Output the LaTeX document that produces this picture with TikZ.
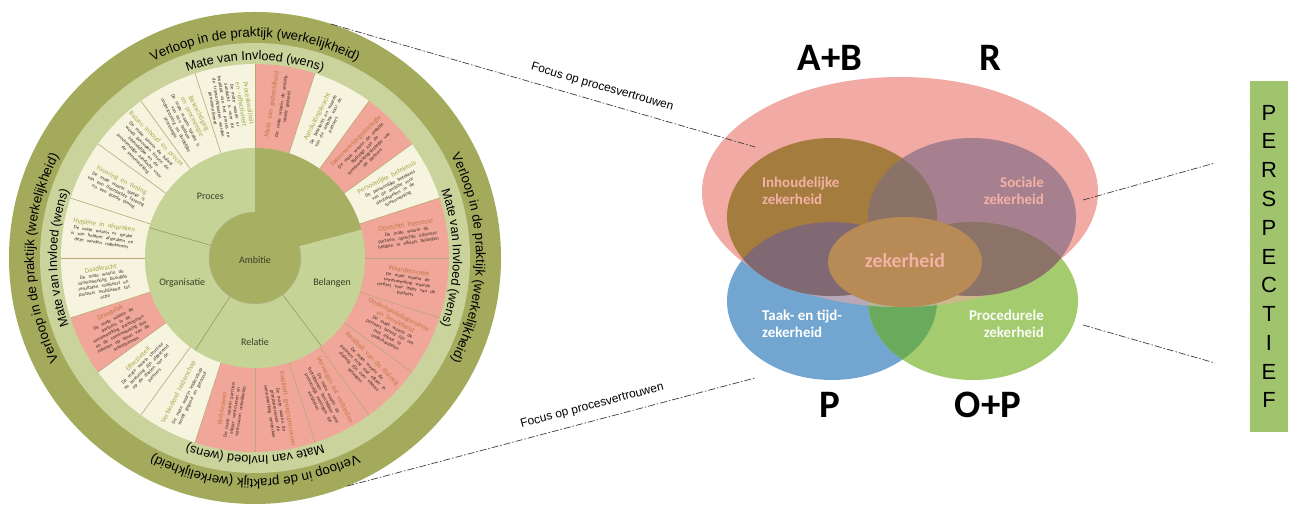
\documentclass[tikz,border=0pt]{standalone}
\usepackage{fontspec}
\setmainfont{Liberation Sans}
\newfontfamily\segfont{Carlito}
\usetikzlibrary{decorations.text}

%% wheel colours
\definecolor{ringdark}{RGB}{163,170,92}
\definecolor{ringlight}{RGB}{201,211,155}
\definecolor{innerlight}{RGB}{198,211,150}
\definecolor{ambdark}{RGB}{166,175,98}
\definecolor{creamseg}{RGB}{246,243,222}
\definecolor{pinkseg}{RGB}{240,166,152}
\definecolor{titlecream}{RGB}{165,172,80}
\definecolor{titlepink}{RGB}{196,120,72}
\definecolor{bodytext}{RGB}{60,42,36}
\definecolor{sectortext}{RGB}{60,62,40}
\definecolor{segline}{RGB}{190,165,120}
%% venn colours
\definecolor{vpink}{RGB}{242,170,164}
\definecolor{vbrown}{RGB}{164,124,62}
\definecolor{vpurple}{RGB}{166,128,143}
\definecolor{vtoplens}{RGB}{138,115,102}
\definecolor{vleftlens}{RGB}{128,105,114}
\definecolor{vrightlens}{RGB}{140,115,103}
\definecolor{vcenter}{RGB}{184,138,86}
\definecolor{vblue}{RGB}{114,165,207}
\definecolor{vgreen}{RGB}{164,203,110}
\definecolor{vbluegreen}{RGB}{106,170,92}
\definecolor{vlabelpink}{RGB}{243,178,165}
\definecolor{perspgreen}{RGB}{160,196,110}

\newcommand\ringbig{\fontsize{13.3}{13.3}\selectfont}
\newcommand\ringsmall{\fontsize{12.7}{12.7}\selectfont}

\newcommand\seglist{%
0/pinkseg/titlepink/Mate van gedeeldheid/De mate waarin de ambitie wordt gedeeld,
1/creamseg/titlecream/Aansluitingskracht/De betekenis en waarde van de ambitie voor de partners,
2/pinkseg/titlepink/Samenwerkingsstrategie/De mate waarin de ambitie bijdraagt aan de samenwerkingsstrategie van de partners,
3/creamseg/titlecream/Persoonlijke betekenis/De persoonlijke betekenis van de ambitie voor sleutelspelers in de samenwerking,
4/pinkseg/titlepink/Oprechte interesse/De mate waarin de partners oprechte interesse hebben in elkaars belangen,
5/pinkseg/titlepink/Waardecreatie/De mate waarin de samenwerking waarde cre\"eert voor ieder van de partners,
6/pinkseg/titlepink/Onderhandelingsruimte en bereidheid/De mate waarin de partners bereid zijn om met elkaar te onderhandelen,
7/pinkseg/titlepink/Kwaliteit van de dialoog/De mate waarin de partners echt met elkaar in dialoog zijn over elkaars belangen,
8/pinkseg/titlepink/Vermogen tot verbinden/De mate waarin de betrokkenen beschikken over persoonlijk vermogen tot verbinden,
9/pinkseg/titlepink/Kwaliteit groepsprocessen/De mate waarin de groepsprocessen de samenwerking versterken,
10/pinkseg/titlepink/Vertrouwen/De mate waarin partners elkaar vertrouwen en vertrouwen ontwikkelen,
11/creamseg/titlecream/Verbindend leiderschap/De mate waarin leiderschap wordt gegund en getoond,
12/creamseg/titlecream/Effectiviteit/De mate waarin structuur en besturing zijn afgestemd op de doelen van de partners,
13/pinkseg/titlepink/Draagvlak/De mate waarin de partners in de samenwerking participeren en de samenwerking kan rekenen op steun van de achterbannen,
14/creamseg/titlecream/Daadkracht/De mate waarin de samenwerking beoogde resultaten realiseert en partners mobiliseert tot actie,
15/creamseg/titlecream/Hygi\"ene in afspraken/De mate waarin er sprake is van heldere afspraken en deze worden nagekomen,
16/creamseg/titlecream/Fasering en timing/De mate waarin sprake is van een doordachte fasering en een goede timing,
17/creamseg/titlecream/Balans inhoud en proces/De mate waarin de balans wordt gevonden tussen de inhoudelijke en de procesmatige aandacht voor de samenwerking,
18/creamseg/titlecream/Bekrachtiging en procesregie/De mate waarin sprake is van een heldere ondersteuning en duidelijke procesregie,
19/creamseg/titlecream/Proceskwaliteit en -effectiviteit/De mate waarin er aandacht is voor de kwaliteit van het proces en de transactiekosten worden geminimaliseerd}

\tikzset{
  segtext/.style={font=\segfont, text width=80pt, align=center, inner sep=0, text=bodytext},
  sectorlabel/.style={font=\segfont\fontsize{10}{12}\selectfont, text=sectortext, inner sep=0},
  vennlabel/.style={font=\segfont\bfseries\fontsize{15}{17}\selectfont, inner sep=0},
  bigletter/.style={font=\segfont\bfseries\fontsize{39}{40}\selectfont, inner sep=0},
  focusline/.style={draw={rgb,255:red,60;green,60;blue,60}, line width=0.7pt, dash pattern=on 7pt off 2pt on 1.5pt off 2pt},
  focuslabel/.style={font=\fontsize{12}{13}\selectfont, inner sep=0, sloped}
}

\begin{document}
\begin{tikzpicture}[x=1bp,y=1bp]
  \useasboundingbox[fill=white] (0,0) rectangle (1289,507);
  %% Wheel
  \begin{scope}[shift={(255,249)}]
    \fill[ringdark] (0,0) circle[radius=246];
    \fill[ringlight] (0,0) circle[radius=215];
    %% Outer segments
    \foreach \i/\col/\tc/\ttl/\txt in \seglist {
      \pgfmathsetmacro\sa{90-18*\i}
      \pgfmathsetmacro\se{72-18*\i}
      \fill[\col] (\sa:110) arc[start angle=\sa,end angle=\se,radius=110] -- (\se:194) arc[start angle=\se,end angle=\sa,radius=194] -- cycle;
    }
    \foreach \k in {0,...,19}
      \draw[segline,line width=0.6pt] (90-18*\k:110) -- (90-18*\k:194);
    \foreach \i/\col/\tc/\ttl/\txt in \seglist {
      \pgfmathsetmacro\sm{81-18*\i}
      \pgfmathsetmacro\rot{\i<10 ? \sm : \sm+180}
      \node[segtext,rotate=\rot] (seg\i) at (\sm:154)
        {{\fontsize{7}{7.6}\selectfont\color{\tc}\ttl\par}\vspace{1.2pt}%
         \parbox{64pt}{\centering\fontsize{4.9}{5.6}\selectfont\txt}};
    }
    %% Inner sectors
    \fill[innerlight] (0,0) circle[radius=110];
    \fill[ambdark] (0,0) -- (15:110) arc[start angle=15,end angle=90,radius=110] -- cycle;
    \fill[ambdark] (0,0) circle[radius=46];
    \draw[ambdark!80!black!60,line width=0.5pt] (90:46) arc[start angle=90,end angle=375,radius=46];
    \foreach \ang in {164,237,307}
      \draw[ambdark!85!black,line width=0.5pt] (\ang:46) -- (\ang:110);
    \node[sectorlabel] (proces) at (126:76) {Proces};
    \node[sectorlabel] (organisatie) at (199:77) {Organisatie};
    \node[sectorlabel] (belangen) at (-18:81) {Belangen};
    \node[sectorlabel] (relatie) at (-90:84) {Relatie};
    \node[sectorlabel] (ambitie) at (0,-2) {Ambitie};
    %% Ring texts
    \foreach \c in {90,0,-90,180} {
      \path[decorate,decoration={text along path,text align=center,
        text={|\ringbig|Verloop in de praktijk (werkelijkheid)}}]
        (\c+80:221) arc[start angle=\c+80,end angle=\c-80,radius=221];
      \path[decorate,decoration={text along path,text align=center,
        text={|\ringsmall|Mate van Invloed (wens)}}]
        (\c+80:198) arc[start angle=\c+80,end angle=\c-80,radius=198];
    }
    \coordinate (rimtop) at (72:246);
    \coordinate (rimbot) at (-68:246);
  \end{scope}

  %% Venn: lower ellipses
  \fill[vblue] (832,206) ellipse[x radius=105,y radius=79];
  \fill[vgreen] (973,206) ellipse[x radius=105,y radius=79];
  \begin{scope}
    \clip (832,206) ellipse[x radius=105,y radius=79];
    \fill[vbluegreen] (973,206) ellipse[x radius=105,y radius=79];
  \end{scope}
  %% big ellipse
  \fill[vpink] (900,315) ellipse[x radius=198,y radius=115];
  \begin{scope}
    \clip (900,315) ellipse[x radius=198,y radius=115];
    \fill[vblue,opacity=.45] (832,206) ellipse[x radius=105,y radius=79];
    \fill[vgreen,opacity=.45] (973,206) ellipse[x radius=105,y radius=79];
  \end{scope}
  %% upper ellipses
  \fill[vbrown] (832,290) ellipse[x radius=105,y radius=79];
  \fill[vpurple] (972,290) ellipse[x radius=104,y radius=79];
  \begin{scope}
    \clip (832,290) ellipse[x radius=105,y radius=79];
    \fill[vtoplens] (972,290) ellipse[x radius=104,y radius=79];
    \fill[vleftlens] (832,206) ellipse[x radius=105,y radius=79];
  \end{scope}
  \begin{scope}
    \clip (972,290) ellipse[x radius=104,y radius=79];
    \fill[vrightlens] (973,206) ellipse[x radius=105,y radius=79];
  \end{scope}
  %% centre
  \fill[vcenter] (905,245) ellipse[x radius=77,y radius=45];

  %% Venn labels
  \node[vennlabel,text=vlabelpink,align=left,anchor=west] (inhoud) at (762,316) {Inhoudelijke\\zekerheid};
  \node[vennlabel,text=vlabelpink,align=right,anchor=east] (sociaal) at (1044,316) {Sociale\\zekerheid};
  \node[font=\segfont\bfseries\fontsize{20}{24}\selectfont,text=vlabelpink,inner sep=0] (zeker) at (905,246) {zekerheid};
  \node[vennlabel,text=white,align=left,anchor=west] (taak) at (762,183) {Taak- en tijd-\\zekerheid};
  \node[vennlabel,text=white!94!vgreen,align=right,anchor=east] (procedureel) at (1044,183) {Procedurele\\zekerheid};
  \node[bigletter] (ab) at (830,449) {A+B};
  \node[bigletter] (r) at (990,449) {R};
  \node[bigletter] (p) at (830,102) {P};
  \node[bigletter] (op) at (988,102) {O+P};

  %% Perspectief
  \node[fill=perspgreen,minimum width=38,minimum height=353,inner sep=0,align=center,
    font=\fontsize{22}{28.9}\selectfont] (persp) at (1269,250.5) {P\\E\\R\\S\\P\\E\\C\\T\\I\\E\\F};

  %% Focus lines
  \coordinate (vennNW) at (755,360);
  \coordinate (vennSW) at (755,129);
  \coordinate (vennE1) at (1083,307);
  \coordinate (vennE2) at (1083,182);
  \coordinate (perspN) at (1215,344);
  \coordinate (perspS) at (1215,144);
  \draw[focusline] (rimtop) -- (vennNW) node[focuslabel,pos=.63,above=9pt] (focustop) {Focus op procesvertrouwen};
  \draw[focusline] (rimbot) -- (vennSW) node[focuslabel,pos=.61,above=9pt] (focusbot) {Focus op procesvertrouwen};
  \draw[focusline] (vennE1) -- (perspN);
  \draw[focusline] (vennE2) -- (perspS);
\end{tikzpicture}
\end{document}
